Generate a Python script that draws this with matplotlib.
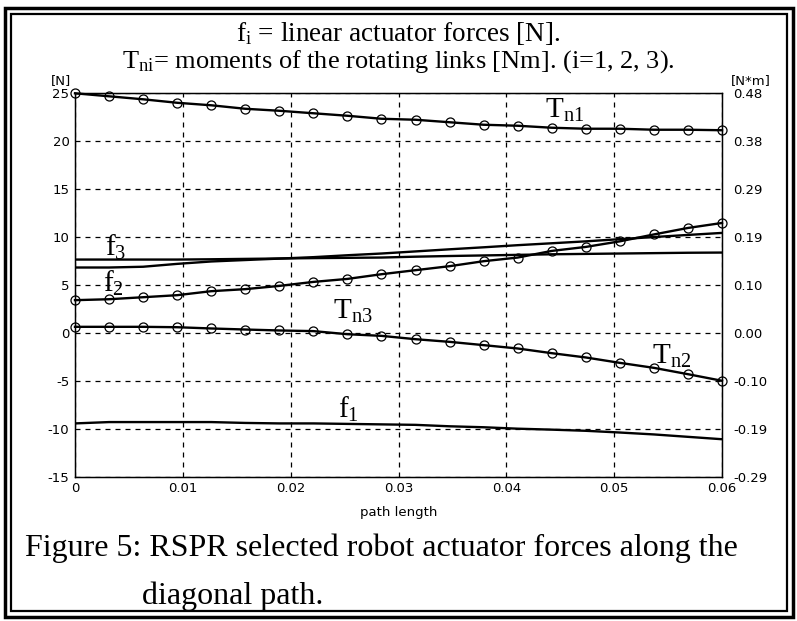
import matplotlib
matplotlib.use("Agg")
import matplotlib.pyplot as plt
from matplotlib.patches import Rectangle
import numpy as np

# ---- data ----
path_length = np.linspace(0.0, 0.06, 20)

# linear actuator forces [N]
f1 = [-9.45, -9.31, -9.31, -9.31, -9.31, -9.40, -9.45, -9.45, -9.50, -9.55,
      -9.60, -9.75, -9.85, -10.00, -10.10, -10.22, -10.40, -10.60, -10.85, -11.10]
f2 = [6.82, 6.82, 6.90, 7.20, 7.45, 7.60, 7.75, 7.90, 8.10, 8.28,
      8.50, 8.72, 8.93, 9.15, 9.35, 9.55, 9.78, 10.00, 10.22, 10.43]
f3 = [7.65, 7.65, 7.65, 7.65, 7.68, 7.72, 7.76, 7.80, 7.83, 7.86,
      7.95, 8.02, 8.08, 8.14, 8.20, 8.24, 8.28, 8.32, 8.36, 8.38]

# moments of the rotating links [Nm]
Tn1 = [0.480, 0.474, 0.468, 0.461, 0.456, 0.449, 0.445, 0.440, 0.435, 0.429,
       0.427, 0.422, 0.417, 0.415, 0.411, 0.409, 0.409, 0.407, 0.407, 0.406]
Tn2 = [0.0121, 0.0121, 0.0121, 0.0113, 0.0088, 0.0067, 0.0048, 0.0035, -0.0027, -0.0060,
       -0.0127, -0.0180, -0.0246, -0.0313, -0.0407, -0.0493, -0.0601, -0.0701, -0.0828, -0.0960]
Tn3 = [0.0655, 0.0674, 0.0714, 0.0755, 0.0835, 0.0876, 0.0941, 0.1021, 0.1081, 0.1175,
       0.1256, 0.1336, 0.1436, 0.1509, 0.1642, 0.1722, 0.1834, 0.1972, 0.2102, 0.2202]

x_ticks = [0, 0.01, 0.02, 0.03, 0.04, 0.05, 0.06]
x_tick_labels = ["0", "0.01", "0.02", "0.03", "0.04", "0.05", "0.06"]
left_ticks = [25, 20, 15, 10, 5, 0, -5, -10, -15]
left_tick_labels = ["25", "20", "15", "10", "5", "0", "-5", "-10", "-15"]
right_ticks = [0.48, 0.384, 0.288, 0.192, 0.096, 0.0, -0.096, -0.192, -0.288]
right_tick_labels = ["0.48", "0.38", "0.29", "0.19", "0.10", "0.00", "-0.10", "-0.19", "-0.29"]

# ---- figure ----
W, H = 797, 621
plt.rcParams["mathtext.fontset"] = "custom"
plt.rcParams["mathtext.rm"] = "Liberation Serif"
plt.rcParams["mathtext.it"] = "Liberation Serif:italic"
serif = "Liberation Serif"
tickfont = {"family": "DejaVu Sans", "size": 9.5}

fig = plt.figure(figsize=(W / 100, H / 100), dpi=100)

def fx(px):
    return px / W

def fy(py):
    return 1 - py / H

# double frame
fig.patches.append(Rectangle((fx(4.5), fy(616.5)), fx(788), 609 / H, transform=fig.transFigure,
                             fill=False, lw=2.5, ec="black"))
fig.patches.append(Rectangle((fx(10.5), fy(610.5)), fx(776), 597 / H, transform=fig.transFigure,
                             fill=False, lw=1.6, ec="black"))

ax = fig.add_axes([fx(75), fy(476.6), fx(722) - fx(75), (476.6 - 93.3) / H])
ax.set_xlim(0, 0.06)
ax.set_ylim(-15, 25)
ax.set_xticks(x_ticks)
ax.set_xticklabels(x_tick_labels, fontdict=tickfont)
ax.set_yticks(left_ticks)
ax.set_yticklabels(left_tick_labels, fontdict=tickfont)
ax.tick_params(direction="in", length=0, pad=4)
ax.grid(True, color="black", ls=(0, (4, 4)), lw=0.9)
for s in ax.spines.values():
    s.set_linewidth(1.0)

ax2 = ax.twinx()
ax2.set_ylim(-0.288, 0.48)
ax2.set_yticks(right_ticks)
ax2.set_yticklabels(right_tick_labels, fontdict=tickfont)
ax2.tick_params(direction="in", length=0, pad=8)

lw = 1.7
ax.plot(path_length, f1, color="black", lw=lw)
ax.plot(path_length, f2, color="black", lw=lw)
ax.plot(path_length, f3, color="black", lw=lw)
mk = dict(marker="o", mfc="none", mec="black", ms=6.5, mew=0.9, color="black", lw=lw, clip_on=False)
ax2.plot(path_length, Tn1, **mk)
ax2.plot(path_length, Tn2, **mk)
ax2.plot(path_length, Tn3, **mk)

lab = dict(fontsize=21, color="black")
ax.text(0.0436, 22.4, r"$\mathrm{T_{n1}}$", **lab)
ax.text(0.0535, -3.2, r"$\mathrm{T_{n2}}$", **lab)
ax.text(0.0239, 1.5, r"$\mathrm{T_{n3}}$", **lab)
ax.text(0.0028, 8.0, r"$\mathrm{f_{3}}$", **lab)
ax.text(0.0026, 4.3, r"$\mathrm{f_{2}}$", **lab)
ax.text(0.0244, -8.9, r"$\mathrm{f_{1}}$", **lab)

ax.set_xlabel("path length", fontsize=9.5, labelpad=8)

fig.text(fx(61), fy(81), "[N]", ha="center", va="center", fontsize=9.5)
fig.text(fx(751), fy(81), "[N*m]", ha="center", va="center", fontsize=9.5)

fig.text(0.5, fy(41), r"$\mathrm{f_{i}}$" + " = linear actuator forces [N].", ha="center", va="baseline",
         fontsize=19.5, family=serif)
fig.text(0.5, fy(68), r"$\mathrm{T_{ni}}$" + "= moments of the rotating links [Nm]. (i=1, 2, 3).",
         ha="center", va="baseline", fontsize=19, family=serif)

fig.text(fx(25), fy(556), "Figure 5: RSPR selected robot actuator forces along the",
         ha="left", va="baseline", fontsize=23, family=serif)
fig.text(fx(142), fy(604), "diagonal path.", ha="left", va="baseline", fontsize=23, family=serif)

fig.savefig("out.png", dpi=100)
